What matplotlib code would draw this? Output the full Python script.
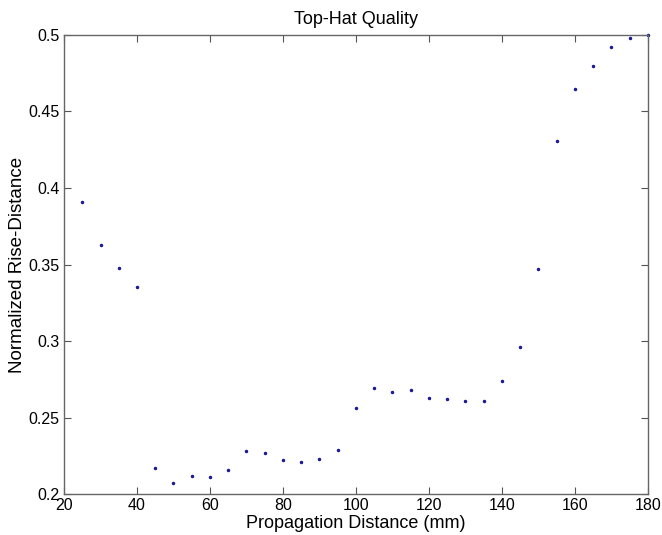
import matplotlib
matplotlib.use('Agg')
import matplotlib.pyplot as plt

plt.rcParams['font.family'] = ['Liberation Sans', 'DejaVu Sans']

# propagation distance (mm) and normalized rise distance
distance = [25, 30, 35, 40, 45, 50, 55, 60, 65, 70, 75, 80, 85, 90, 95,
            100, 105, 110, 115, 120, 125, 130, 135, 140, 145, 150, 155,
            160, 165, 170, 175, 180]
rise = [0.391, 0.363, 0.348, 0.335, 0.217, 0.207, 0.212, 0.211, 0.216,
        0.228, 0.227, 0.222, 0.221, 0.223, 0.229, 0.256, 0.269, 0.267,
        0.268, 0.263, 0.262, 0.261, 0.261, 0.274, 0.296, 0.347, 0.431,
        0.465, 0.480, 0.492, 0.498, 0.500]

fig = plt.figure(figsize=(6.62, 5.35), dpi=100)
ax = fig.add_axes([0.0967, 0.0766, 0.882, 0.858])
ax.plot(distance, rise, '.', color='#1a1a9a', markersize=3, clip_on=False)

ax.set_xlim(20, 180)
ax.set_ylim(0.2, 0.5)
ax.set_xticks(range(20, 181, 20))
ax.set_yticks([0.2, 0.25, 0.3, 0.35, 0.4, 0.45, 0.5])
ax.set_yticklabels(['0.2', '0.25', '0.3', '0.35', '0.4', '0.45', '0.5'])
ax.tick_params(direction='in', top=True, right=True, length=5,
               color='#555555', labelsize=11.5, pad=3)
for s in ax.spines.values():
    s.set_color('#666666')
    s.set_linewidth(1.0)

ax.set_title('Top-Hat Quality', fontsize=13, pad=8)
ax.set_xlabel('Propagation Distance (mm)', fontsize=13, labelpad=1)
ax.set_ylabel('Normalized Rise-Distance', fontsize=13.5, labelpad=2)

fig.savefig('out.png', dpi=100)
